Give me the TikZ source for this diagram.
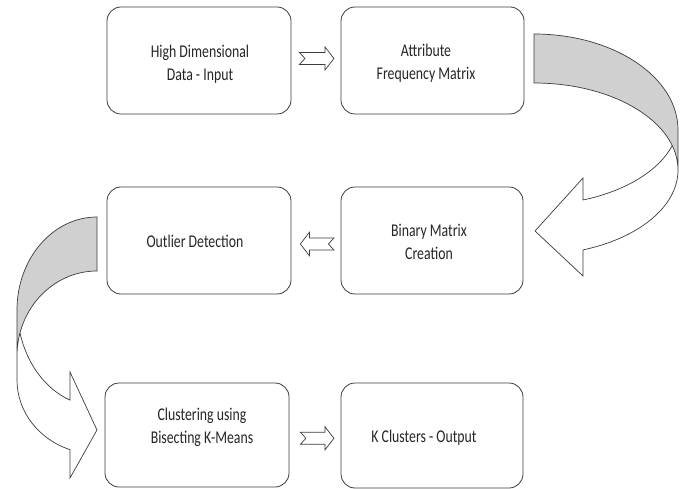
\documentclass[tikz,border=0pt]{standalone}
\usepackage{fontspec}
\setmainfont{Carlito}
\usetikzlibrary{calc}
\definecolor{lineg}{HTML}{3C3C3C}
\definecolor{bandg}{HTML}{D0D0D0}
\newcommand{\vst}[1]{\scalebox{1}[1.3]{#1}}
\tikzset{
  stepbox/.style={draw=lineg, line width=0.8pt, rounded corners=14pt,
    minimum width=184pt, minimum height=107pt, inner sep=0pt},
  txt/.style={font=\fontsize{13.8}{23}\selectfont, align=center, inner sep=0pt, text=black!85},
  barrow/.style={draw=lineg, fill=white, line width=0.7pt, line join=miter},
  band/.style={draw=lineg, line width=0.7pt, fill=bandg},
  bandfront/.style={draw=lineg, line width=0.7pt}
}
% arrow between two anchors: from, to, tail gap, tip gap, vertical offset (down positive)
\newcommand{\blockarrow}[5]{%
  \draw[barrow] let \p1=(#1), \p2=(#2),
      \n1={sign(\x2-\x1)},
      \n3={\x1+\n1*#3},
      \n4={\x2-\n1*#4},
      \n5={\n4-\n1*9},
      \n6={\n3+\n1*5.5},
      \n7={\y1-(#5)}
    in ({\n3*1pt},{(\n7+6)*1pt}) -- ({\n5*1pt},{(\n7+6)*1pt})
       -- ({\n5*1pt},{(\n7+11.7)*1pt}) -- ({\n4*1pt},{\n7*1pt})
       -- ({\n5*1pt},{(\n7-11.7)*1pt}) -- ({\n5*1pt},{(\n7-6)*1pt})
       -- ({\n3*1pt},{(\n7-6)*1pt}) -- ({\n6*1pt},{\n7*1pt}) -- cycle;}
\begin{document}
\begin{tikzpicture}[x=1pt, y=-1pt]
\useasboundingbox (0,0) rectangle (688,489);
\fill[white] (0,0) rectangle (688,489);

% boxes
\node[stepbox] (b1) at (199,60.5) {};
\node[stepbox, minimum width=183pt] (b2) at (432.5,60.5) {};
\node[stepbox] (b3) at (199,240.5) {};
\node[stepbox, minimum width=182pt] (b4) at (432,240.5) {};
\node[stepbox, minimum height=104pt] (b5) at (197,435) {};
\node[stepbox, minimum width=182pt, minimum height=105pt] (b6) at (432,435.5) {};

% texts
\node[txt] (t1) at (200,64) {\vst{High Dimensional}\\\vst{Data - Input}};
\node[txt] (t2) at (426,63) {\vst{Attribute}\\\vst{Frequency Matrix}};
\node[txt] (t3) at (195,241.5) {\vst{Outlier Detection}};
\node[txt] (t4) at (429,242) {\vst{Binary Matrix}\\\vst{Creation}};
\node[txt] (t5) at (202,427.8) {\vst{Clustering using}\\\vst{Bisecting K-Means}};
\node[txt] (t6) at (424,437.3) {\vst{K Clusters - Output}};

% straight block arrows
\blockarrow{b1.east}{b2.west}{8}{6.7}{-2}
\blockarrow{b4.west}{b3.east}{6.7}{9}{3.5}
\blockarrow{b5.east}{b6.west}{11}{6.7}{3.3}

% curved arrow: Attribute Frequency Matrix -> Binary Matrix Creation
\filldraw[band]
  (534,34) arc[start angle=-90, end angle=0, x radius=144, y radius=96]
  -- (678,170)
  arc[start angle=0, end angle=-90, x radius=144, y radius=87]
  -- cycle;
\draw[bandfront]
  (678,170) arc[start angle=0, end angle=70.1, x radius=144, y radius=85]
  -- (583,276) -- (535,231) -- (583,178) -- (583,200)
  arc[start angle=70.25, end angle=17.6, x radius=145, y radius=85];

% curved arrow: Outlier Detection -> Clustering
\filldraw[band]
  (97,217) arc[start angle=270, end angle=180, x radius=80, y radius=93]
  -- (17,356)
  arc[start angle=180, end angle=270, x radius=80, y radius=85]
  -- cycle;
\draw[bandfront]
  (17,356) -- (17,380) arc[start angle=180, end angle=109.73, x radius=80, y radius=74]
  -- (70,478) -- (97,430) -- (70,372) -- (70,400.1)
  arc[start angle=109.73, end angle=164.26, x radius=80, y radius=100];
\end{tikzpicture}
\end{document}
